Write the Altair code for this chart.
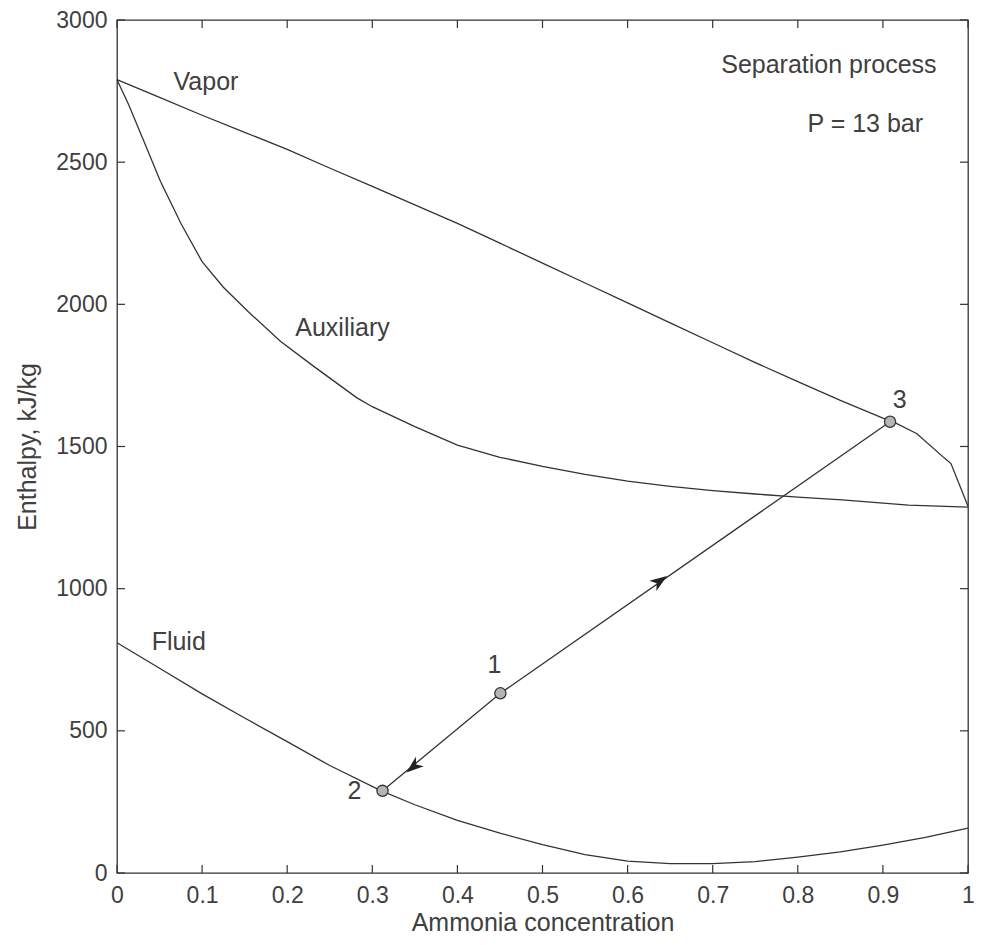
import altair as alt
import pandas as pd

# ---- data ----
vapor_x = [0.0, 0.05, 0.1, 0.15, 0.2, 0.247, 0.3, 0.35, 0.4, 0.45, 0.5, 0.55, 0.6, 0.65,
           0.7, 0.75, 0.8, 0.85, 0.9, 0.91, 0.94, 0.972, 0.98, 1.0]
vapor_h = [2790, 2728, 2665, 2605, 2545, 2483, 2415, 2350, 2285, 2215, 2145, 2075, 2005, 1935,
           1865, 1795, 1728, 1662, 1600, 1590, 1545, 1460, 1440, 1290]

aux_x = [0.0, 0.014, 0.03, 0.051, 0.075, 0.1, 0.125, 0.154, 0.192, 0.232, 0.282, 0.3, 0.35, 0.4,
         0.45, 0.5, 0.55, 0.6, 0.65, 0.7, 0.75, 0.8, 0.852, 0.93, 1.0]
aux_h = [2790, 2700, 2585, 2433, 2285, 2150, 2060, 1975, 1870, 1780, 1671, 1640, 1570, 1505,
         1462, 1430, 1402, 1378, 1360, 1345, 1333, 1322, 1312, 1294, 1287]

fluid_x = [0.0, 0.05, 0.1, 0.15, 0.2, 0.25, 0.31, 0.35, 0.4, 0.45, 0.5, 0.55, 0.6, 0.65, 0.7,
           0.75, 0.8, 0.85, 0.9, 0.95, 1.0]
fluid_h = [810, 720, 630, 545, 462, 378, 290, 240, 185, 140, 100, 65, 42, 33, 33,
           40, 56, 74, 98, 125, 158]

proc_x = [0.312, 0.4505, 0.9084]       # states 2, 1, 3
proc_h = [289, 632, 1587]

arrow_x = [0.638, 0.348]
arrow_h = [1027, 373]
arrow_angle = [325.4, 140.7]

lab_text = ["Vapor", "Auxiliary", "Fluid", "Separation process", "P = 13 bar"]
lab_x = [0.0664, 0.2095, 0.0407, 0.710, 0.8114]
lab_h = [2782, 1917, 812, 2842, 2634]

num_text = ["2", "1", "3"]
num_x = [0.279, 0.4435, 0.9197]
num_h = [288, 732, 1664]

x_ticks = [0.0, 0.1, 0.2, 0.3, 0.4, 0.5, 0.6, 0.7, 0.8, 0.9, 1.0]
y_ticks = [0, 500, 1000, 1500, 2000, 2500, 3000]

# ---- tables ----
curves = pd.concat([
    pd.DataFrame({"x": vapor_x, "y": vapor_h, "c": "Vapor"}),
    pd.DataFrame({"x": aux_x, "y": aux_h, "c": "Auxiliary"}),
    pd.DataFrame({"x": fluid_x, "y": fluid_h, "c": "Fluid"}),
], ignore_index=True)
proc = pd.DataFrame({"x": proc_x, "y": proc_h, "o": [0, 1, 2]})
arrows = pd.DataFrame({"x": arrow_x, "y": arrow_h, "a": arrow_angle})
labels = pd.DataFrame({"x": lab_x, "y": lab_h, "t": lab_text})
nums = pd.DataFrame({"x": num_x, "y": num_h, "t": num_text})
xt = pd.DataFrame({"x": x_ticks})
yt = pd.DataFrame({"y": y_ticks})

W, H = 851, 853
FONT = "Liberation Sans"
LINE = "#333333"
TXT = "#404040"

xs = alt.Scale(domain=[0, 1], nice=False, zero=False)
ys = alt.Scale(domain=[0, 3000], nice=False, zero=False)
axis_style = dict(ticks=False, domain=False, grid=False, labelFlush=False,
                  labelFont=FONT, labelFontSize=23, labelColor=TXT,
                  titleFont=FONT, titleFontSize=25, titleFontWeight="normal", titleColor=TXT)
x_axis = alt.Axis(values=x_ticks, format="~f", title="Ammonia concentration",
                  labelPadding=11, titlePadding=3, **axis_style)
y_axis = alt.Axis(values=y_ticks, format="d", title="Enthalpy, kJ/kg",
                  labelPadding=10, titlePadding=15, **axis_style)
X = alt.X("x:Q", scale=xs, axis=x_axis)
Y = alt.Y("y:Q", scale=ys, axis=y_axis)

curve_layer = alt.Chart(curves).mark_line(color=LINE, strokeWidth=1.3).encode(
    x=X, y=Y, detail="c:N")
proc_layer = alt.Chart(proc).mark_line(color=LINE, strokeWidth=1.3).encode(
    x=X, y=Y, order="o:Q")
arrow_layer = alt.Chart(arrows).mark_point(
    shape="M1,0 L-1,-0.72 L-0.45,0 L-1,0.72 Z", filled=True, color="#222222", size=300, opacity=1
).encode(x=X, y=Y, angle=alt.Angle("a:Q", scale=None))
pt_layer = alt.Chart(proc).mark_point(
    shape="circle", filled=True, fill="#b5b5b5", stroke="#333333", strokeWidth=1.3, size=125, opacity=1
).encode(x=X, y=Y)
lab_layer = alt.Chart(labels).mark_text(
    align="left", baseline="middle", font=FONT, fontSize=25, color=TXT
).encode(x=X, y=Y, text="t:N")
num_layer = alt.Chart(nums).mark_text(
    align="center", baseline="middle", font=FONT, fontSize=25, color=TXT
).encode(x=X, y=Y, text="t:N")

tick_color = "#333333"
bt = alt.Chart(xt).mark_rule(color=tick_color, strokeWidth=1.2).encode(
    x=X, y=alt.value(H), y2=alt.value(H - 8))
tt = alt.Chart(xt).mark_rule(color=tick_color, strokeWidth=1.2).encode(
    x=X, y=alt.value(0), y2=alt.value(8))
lt = alt.Chart(yt).mark_rule(color=tick_color, strokeWidth=1.2).encode(
    y=Y, x=alt.value(0), x2=alt.value(8))
rt = alt.Chart(yt).mark_rule(color=tick_color, strokeWidth=1.2).encode(
    y=Y, x=alt.value(W), x2=alt.value(W - 8))

chart = alt.layer(
    bt, tt, lt, rt, curve_layer, proc_layer, arrow_layer, pt_layer, lab_layer, num_layer
).properties(
    width=W, height=H,
    background="white",
    autosize=alt.AutoSizeParams(type="none"),
    padding={"left": 109, "top": 12, "right": 6, "bottom": 64},
).configure_view(
    stroke="#333333", strokeWidth=1.3, fill="white"
)

chart.save("out.html", embed_options={"renderer": "svg", "actions": False})
